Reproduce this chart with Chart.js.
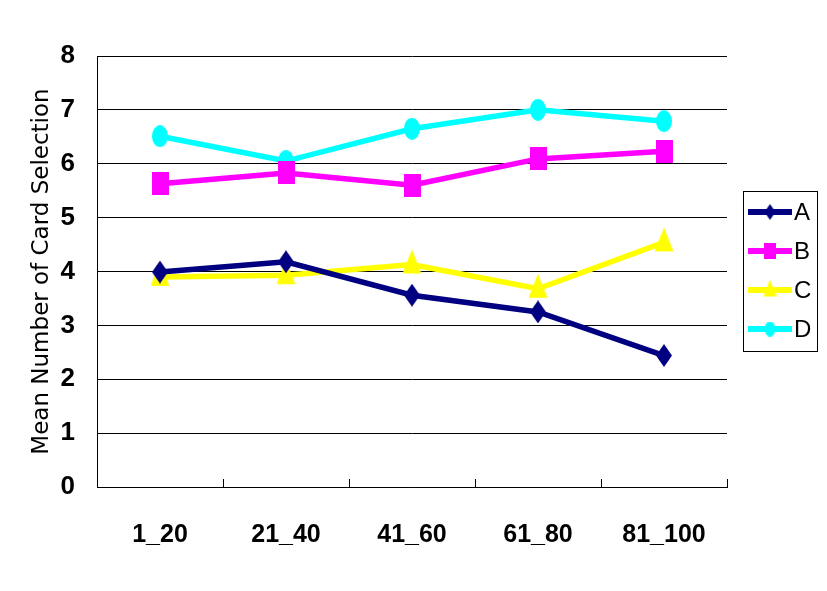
<!DOCTYPE html>
<html lang="en">
<head>
  <meta charset="UTF-8">
  <title>Mean Number of Card Selection</title>
  <script src="https://cdn.jsdelivr.net/npm/chart.js"></script>
  <style>
    body { margin: 0; padding: 0; background: #fff; }
  </style>
</head>
<body>
  <canvas id="cardChart" width="827" height="591"></canvas>
  <script>
    // values
    const blocks = ['1_20', '21_40', '41_60', '61_80', '81_100'];
    const seriesA = [3.99, 4.18, 3.56, 3.25, 2.44];
    const seriesB = [5.63, 5.83, 5.60, 6.09, 6.23];
    const seriesC = [3.90, 3.93, 4.13, 3.68, 4.54];
    const seriesD = [6.51, 6.05, 6.65, 7.00, 6.79];
    const yTicks = [0, 1, 2, 3, 4, 5, 6, 7, 8];

    const font = "Arial, 'Liberation Sans', sans-serif";

    // the reference markers are taller than wide, so build them as little images
    function marker(kind, color, w, h) {
      const c = document.createElement('canvas');
      const full = kind === 'triangle' ? Math.round(h * 1.25) : h;
      c.width = w; c.height = full;
      const g = c.getContext('2d');
      g.fillStyle = color;
      g.beginPath();
      if (kind === 'diamond') {
        g.moveTo(w / 2, 0); g.lineTo(w, h / 2); g.lineTo(w / 2, h); g.lineTo(0, h / 2);
      } else if (kind === 'square') {
        g.rect(0, 0, w, h);
      } else if (kind === 'triangle') {
        g.moveTo(w / 2, 0); g.lineTo(w, h); g.lineTo(0, h);
      } else {
        g.ellipse(w / 2, h / 2, w / 2, h / 2, 0, 0, Math.PI * 2);
      }
      g.closePath();
      g.fill();
      return c;
    }

    function makeSet(label, data, color, kind, w, h) {
      const img = marker(kind, color, w, h);
      const small = marker(kind, color, Math.round(w * 0.7), Math.round(h * 0.7));
      return {
        label: label, data: data,
        borderColor: color, backgroundColor: color,
        borderWidth: 5.5, pointStyle: img, legendMark: small,
        tension: 0, fill: false
      };
    }

    // boxed legend on the right: line + marker + letter
    const boxLegend = {
      id: 'boxLegend',
      afterDraw(chart) {
        const ctx = chart.ctx;
        ctx.save();
        ctx.strokeStyle = '#000';
        ctx.lineWidth = 1;
        ctx.strokeRect(743.5, 191.5, 74, 160);
        chart.data.datasets.forEach((ds, i) => {
          const y = 212 + i * 39;
          ctx.strokeStyle = ds.borderColor;
          ctx.lineWidth = 6;
          ctx.beginPath();
          ctx.moveTo(748, y);
          ctx.lineTo(792, y);
          ctx.stroke();
          const m = ds.legendMark;
          ctx.drawImage(m, 770 - m.width / 2, y - m.height / 2);
          ctx.fillStyle = '#000';
          ctx.font = '24px ' + font;
          ctx.textBaseline = 'middle';
          ctx.textAlign = 'left';
          ctx.fillText(ds.label, 794, y + 1);
        });
        ctx.restore();
      }
    };

    new Chart(document.getElementById('cardChart'), {
      type: 'line',
      data: {
        labels: blocks,
        datasets: [
          makeSet('A', seriesA, '#000080', 'diamond', 16, 23),
          makeSet('B', seriesB, '#FF00FF', 'square', 17, 23),
          makeSet('C', seriesC, '#FFFF00', 'triangle', 19, 24),
          makeSet('D', seriesD, '#00FFFF', 'ellipse', 16, 22)
        ]
      },
      options: {
        responsive: false,
        animation: false,
        layout: { padding: { left: 0, top: 56, right: 100, bottom: 0 } },
        plugins: { legend: { display: false }, tooltip: { enabled: false } },
        scales: {
          x: {
            offset: true,
            grid: { offset: true, drawOnChartArea: false, color: '#000', lineWidth: 1, tickLength: -8 },
            border: { color: '#000', width: 1 },
            ticks: { color: '#000', padding: 41, font: { family: font, size: 25, weight: 'bold' } },
            afterFit(scale) { scale.height = 104; }
          },
          y: {
            min: 0, max: 8,
            afterBuildTicks(scale) { scale.ticks = yTicks.map(v => ({ value: v })); },
            grid: { color: '#000', lineWidth: 1, drawTicks: false },
            border: { color: '#000', width: 1 },
            ticks: { color: '#000', padding: 22, font: { family: font, size: 26, weight: 'bold' } },
            title: {
              display: true, text: 'Mean Number of Card Selection', color: '#000',
              font: { family: "'DejaVu Sans', Verdana, sans-serif", size: 23 }, padding: { top: 28, bottom: 0 }
            },
            afterFit(scale) { scale.width = 97; }
          }
        }
      },
      plugins: [boxLegend]
    });
  </script>
</body>
</html>
